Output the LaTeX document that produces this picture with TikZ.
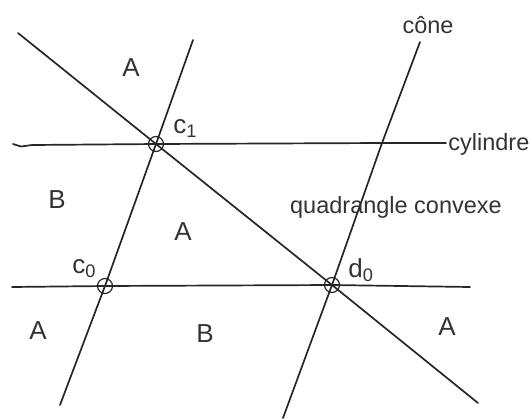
\documentclass[tikz,border=0pt]{standalone}
\usepackage{fontspec}
\setmainfont{Liberation Sans}
\usetikzlibrary{positioning}

\begin{document}
\begin{tikzpicture}[
  x=0.5pt,y=-0.5pt,
  trait/.style={line width=0.85pt,black!85,line cap=round,line join=round},
  pt/.style={circle,draw,line width=0.6pt,black!85,inner sep=0pt,minimum size=7.5pt},
  zone/.style={font=\fontsize{13}{15}\selectfont,text=black!80,inner sep=0pt},
  lbl/.style={font=\fontsize{11.75}{14}\selectfont,text=black!80,inner sep=0pt},
  ptlbl/.style={font=\fontsize{13}{15}\selectfont,text=black!80,inner sep=0pt,anchor=base west}
]
\useasboundingbox (0,0) rectangle (532,419);
% points d'intersection
\node[pt] (c1) at (156,144) {};
\node[pt] (c0) at (105,286) {};
\node[pt] (d0) at (332,285) {};
% bouts libres des traits
\coordinate (diagN) at (18,33);
\coordinate (diagS) at (478,403);
\coordinate (gaucheN) at (193,40);
\coordinate (gaucheS) at (60,405);
\coordinate (coneN) at (420,42);
\coordinate (coneX) at (382,143);
\coordinate (coneS) at (283,418);
\coordinate (cylW) at (13,144);
\coordinate (cylE) at (446,143);
\coordinate (basW) at (12,287);
\coordinate (basE) at (470,287);
% traits
\draw[trait] (diagN) -- (c1.center) -- (d0.center) -- (diagS);
\draw[trait] (gaucheN) -- (c1.center) -- (c0.center) -- (gaucheS);
\draw[trait] (coneN) -- (coneX) -- (d0.center) -- (coneS);
\draw[trait] (cylW) -- (21,146.5) -- (32,145) -- (c1.center) -- (coneX) -- (cylE);
\draw[trait] (basW) -- (c0.center) -- (d0.center) -- (basE);
% textes
\node[lbl,anchor=base] (cone) at (428,33) {cône};
\node[lbl,anchor=base west] (cyl) at (448,150) {cylindre};
\node[lbl,anchor=base] (quad) at (396,213) {quadrangle convexe};
\node[ptlbl] (lc1) at (173,133) {c\textsubscript{1}};
\node[ptlbl] (lc0) at (72,273) {c\textsubscript{0}};
\node[ptlbl] (ld0) at (348,277) {d\textsubscript{0}};
% zones
\node[zone] (zA1) at (131,68) {A};
\node[zone] (zB1) at (57,200) {B};
\node[zone] (zA2) at (183,232) {A};
\node[zone] (zA3) at (38,331) {A};
\node[zone] (zB2) at (205,334) {B};
\node[zone] (zA4) at (447,327) {A};
\end{tikzpicture}
\end{document}
